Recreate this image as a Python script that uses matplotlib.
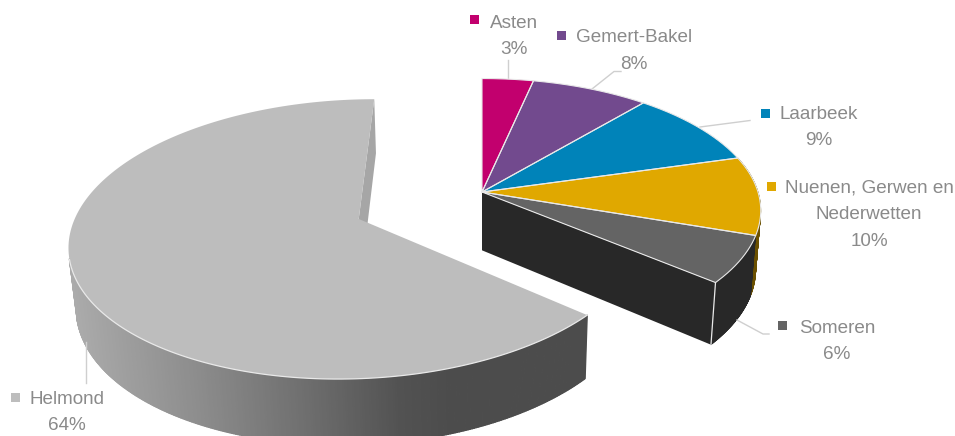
import numpy as np
import matplotlib
matplotlib.use("Agg")
import matplotlib.pyplot as plt
from matplotlib.collections import PolyCollection
from matplotlib.patches import Polygon, Rectangle

names = ["Asten", "Gemert-Bakel", "Laarbeek", "Nuenen, Gerwen en\nNederwetten", "Someren", "Helmond"]
values = [3.4, 7.8, 9.4, 9.6, 5.8, 64.0]
colors = ["#C2006E", "#724A8E", "#0083B9", "#E0A800", "#646464", "#BDBDBD"]
side_colors = [None, None, None, "#6B5000", "#282828", None]
exploded = [False, False, False, False, False, True]

# text block centre x, first line y, marker x, marker y
label_pos = [
    (514, 23, 474, 20),
    (634, 38, 561, 36),
    (819, 114, 765, 113),
    (869, 188, 771, 187),
    (837, 328, 782, 325),
    (67, 399, 15, 397),
]
leaders = [
    [(508, 79), (508, 60)],
    [(592, 89), (614, 71.5), (621, 71.5)],
    [(700, 127), (750, 120.5)],
    [(737, 320), (763, 334), (769, 334)],
    [(86, 342), (86, 383)],
]

# camera for the tilted pie plane
VX, VY, SX, SY, TILT = 482.0, -732.0, 276.0, 924.0, 0.14
DROP_W, DROP_N = 0.018, 1000.0
HELMOND_OFFSET = (-0.434, -0.2026)
TEXT_COL = "#8A8A8A"
EDGE_COL = "#E9E9E9"
LEADER_COL = "#CFCFCF"


def project(t, offset=(0, 0), bottom=False):
    x = np.sin(t) + offset[0]
    y = np.cos(t) + offset[1]
    return project_xy(x, y, bottom)


def project_xy(x, y, bottom=False):
    w = 1 + TILT * y
    if bottom:
        w = w + DROP_W
        return np.column_stack([VX + SX * x / w, VY + DROP_N / w])
    return np.column_stack([VX + SX * x / w, VY + SY / w])


def wall_quads(t0, t1, offset=(0, 0), n=300):
    # swept strips, so the outline also covers the tangent between both rims
    tt = np.linspace(t0, t1, n)
    top = project(tt, offset)
    low = project(tt, offset, True)
    return np.stack([top[:-1], top[1:], low[1:], low[:-1]], axis=1)


fig = plt.figure(figsize=(9.55, 4.36), dpi=100)
ax = fig.add_axes([0, 0, 1, 1])
ax.set_xlim(0, 955)
ax.set_ylim(436, 0)
ax.axis("off")

bounds = np.concatenate([[0], np.cumsum(values)]) * 2 * np.pi / sum(values)

# Helmond side wall with its grey gradient, only the part that faces the viewer
i = names.index("Helmond")
off = HELMOND_OFFSET
quads = wall_quads(bounds[i], np.pi * 1.41, off, 300)
grey = np.interp(quads[:, :, 0].mean(axis=1), [70, 200, 300, 400, 450, 955], [172, 140, 112, 82, 76, 76]) / 255
wall_cols = np.column_stack([grey, grey, grey])
ax.add_collection(PolyCollection(quads, facecolors=wall_cols, edgecolors=wall_cols, linewidths=0.9, zorder=1))

# end cut of Helmond, seen through the notch
cx, cy = off
end = np.array([bounds[i + 1]])
cut = np.vstack([project(end, off), project_xy(cx, cy), project_xy(cx, cy, True), project(end, off, True)])
ax.add_patch(Polygon(cut, fc="#A6A6A6", ec="none", zorder=1))

# walls of the right hand part
for j, col in enumerate(side_colors):
    if col is None:
        continue
    ax.add_collection(PolyCollection(wall_quads(bounds[j], bounds[j + 1], n=100),
                                     facecolors=col, edgecolors=col, linewidths=0.5, zorder=2))

j = names.index("Someren")
end = np.array([bounds[j + 1]])
cut = np.vstack([project_xy(0, 0), project(end), project(end, bottom=True), project_xy(0, 0, True)])
ax.add_patch(Polygon(cut, fc="#282828", ec="none", zorder=2))
edge = np.vstack([project(end), project(end, bottom=True)])
ax.plot(edge[:, 0], edge[:, 1], color=EDGE_COL, lw=0.9, zorder=3)

# top faces
for j, col in enumerate(colors):
    o = HELMOND_OFFSET if exploded[j] else (0, 0)
    tt = np.linspace(bounds[j], bounds[j + 1], 200)
    arc = project(tt, o)
    centre = project_xy(o[0], o[1])
    pts = np.vstack([centre, arc])
    ax.add_patch(Polygon(pts, fc=col, ec="none", zorder=4))
    if exploded[j]:
        # only the front rim has a light line
        front = tt < np.pi * 1.41
        ax.plot(arc[front, 0], arc[front, 1], color=EDGE_COL, lw=0.9, zorder=5)
    else:
        ax.plot(*np.vstack([centre, arc, centre]).T, color=EDGE_COL, lw=0.8, zorder=5)

for line in leaders:
    pts = np.array(line)
    ax.plot(pts[:, 0], pts[:, 1], color=LEADER_COL, lw=1.0, zorder=3)

for name, val, col, pos in zip(names, values, colors, label_pos):
    tx, ty, mx, my = pos
    lines = name.split("\n") + [f"{val:.0f}%"]
    step = 26.5
    for k, s in enumerate(lines):
        ax.text(tx, ty + k * step, s, ha="center", va="center", color=TEXT_COL,
                fontsize=13.6, family="Liberation Sans", zorder=6)
    ax.add_patch(Rectangle((mx - 4.5, my - 4.5), 9, 9, fc=col, ec="none", zorder=6))

fig.savefig("out.png", dpi=100)
